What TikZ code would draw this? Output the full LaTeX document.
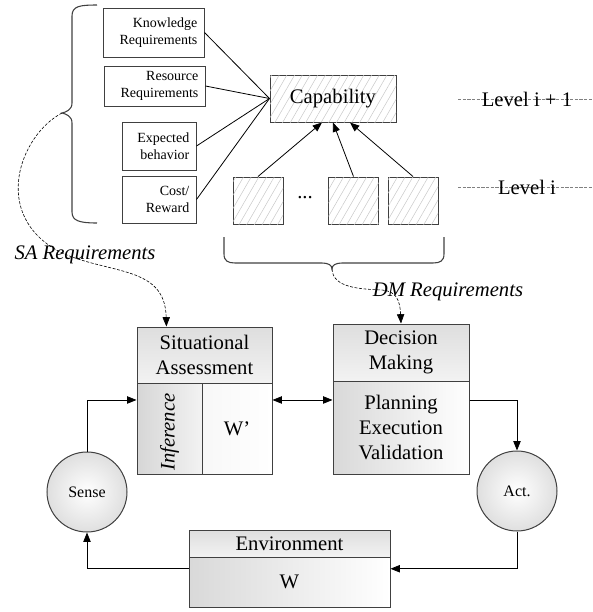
\documentclass[tikz,border=0pt]{standalone}
\usepackage{fontspec}
\setmainfont{Liberation Serif}
\usetikzlibrary{arrows.meta,patterns.meta,calc}

\definecolor{boxline}{RGB}{64,64,64}
\tikzset{every picture/.style={line width=0.6pt}}
\tikzset{
  bigtext/.style={font=\fontsize{15.5}{18.75}\selectfont},
  reqbox/.style={draw=boxline, line width=0.75pt, align=right, inner xsep=5pt, inner ysep=2pt, text width=#1, font=\fontsize{10.5}{12.75}\selectfont},
  hatchbox/.style={draw=boxline, line width=0.75pt, fill=white, postaction={pattern={Lines[angle=60,distance=5pt,line width=0.35pt]}, pattern color=gray!45}},
  headbox/.style={draw=boxline, line width=0.75pt, bigtext, align=center, inner sep=1pt, top color=gray!26, bottom color=gray!10},
  bodybox/.style={draw=boxline, line width=0.75pt, bigtext, align=center, inner sep=1pt, left color=gray!30, right color=white},
  iobox/.style={circle, draw=boxline, line width=0.75pt, minimum size=60pt, inner sep=0pt, inner color=white, outer color=gray!25, font=\fontsize{12}{14}\selectfont},
  conn/.style={-{Triangle[length=7pt,width=5.5pt]}, black},
  levelline/.style={gray, line width=0.5pt, dash pattern=on 2.5pt off 1pt},
  reqcurve/.style={-{Triangle[length=7pt,width=5.5pt]}, black, line width=0.45pt, dash pattern=on 2.2pt off 1.2pt},
  bracket/.style={boxline, line width=0.8pt}
}

\begin{document}
\begin{tikzpicture}[x=0.75pt,y=0.75pt,yscale=-1,xscale=1]
\useasboundingbox (0,0) rectangle (593,612);

% requirement boxes
\node[reqbox=65.75pt, minimum height=36.75pt] (know) at (153.5,32.5) {Knowledge\\Requirements};
\node[reqbox=65.75pt, minimum height=30pt] (res) at (154.5,86) {Resource\\Requirements};
\node[reqbox=45.5pt, minimum height=36pt] (expb) at (159,146) {Expected\\behavior};
\node[reqbox=45.5pt, minimum height=35.25pt] (cost) at (159,199.5) {Cost/\\Reward};

% capability and its level i parts
\node[hatchbox, bigtext, minimum width=94.5pt, minimum height=35.25pt] (cap) at (333,98.5) {Capability};
\node[hatchbox, minimum width=37.5pt, minimum height=35.25pt] (lv1) at (258,200.5) {};
\node[hatchbox, minimum width=37.5pt, minimum height=35.25pt] (lv2) at (353.5,200.5) {};
\node[hatchbox, minimum width=37.5pt, minimum height=35.25pt] (lv3) at (413,200.5) {};
\node[bigtext] (dots) at (305,198) {...};

\draw (know.east) -- (cap.west);
\draw (res.east) -- (cap.west);
\draw (expb.east) -- (cap.west);
\draw (cost.east) -- (cap.west);
\draw[conn] (lv1.north) -- ($(cap.south)+(-11,0)$);
\draw[conn] (lv2.north) -- ($(cap.south)+(0,0)$);
\draw[conn] (lv3.north) -- ($(cap.south)+(17,0)$);

% level labels
\coordinate (lvtopA) at (458,99);
\coordinate (lvtopB) at (592,99);
\coordinate (lvbotA) at (458,187);
\coordinate (lvbotB) at (592,187);
\draw[levelline] (lvtopA) -- (lvtopB);
\draw[levelline] (lvbotA) -- (lvbotB);
\node[bigtext] (lvtoplbl) at (527,99) {Level i + 1};
\node[bigtext] (lvbotlbl) at (527,187) {Level i};

% braces
\coordinate (sabrace) at (62,113);
\coordinate (dmbrace) at (332,269);
\draw[bracket] (97,5) .. controls (80,5) and (72,6) .. (72,16) -- (72,103) .. controls (72,110) and (66,112) .. (sabrace) .. controls (66,114) and (72,116) .. (72,123) -- (72,212) .. controls (72,221) and (80,223) .. (97,223);
\draw[bracket] (224,237) -- (224,254) .. controls (224,261) and (228,263) .. (235,263) -- (322,263) .. controls (328,263) and (332,265) .. (dmbrace) .. controls (332,265) and (336,263) .. (342,263) -- (433,263) .. controls (440,263) and (444,261) .. (444,254) -- (444,237);

% situational assessment
\node[headbox, minimum width=101.25pt, minimum height=42pt] (sahead) at (204.5,355) {Situational\\Assessment};
\node[bodybox, left color=gray!32, right color=gray!10, minimum width=48.75pt, minimum height=68.25pt] (sainf) at (169.5,428.5) {};
\node[bodybox, left color=gray!6, right color=white, minimum width=52.5pt, minimum height=68.25pt] (sawp) at (237,428.5) {W’};
\node[bigtext, rotate=90, font=\fontsize{15.5}{18.75}\selectfont\itshape] (inftxt) at (169.5,432) {Inference};

% decision making
\node[headbox, minimum width=102pt, minimum height=42.75pt] (dmhead) at (401,352.5) {Decision\\Making};
\node[bodybox, minimum width=102pt, minimum height=69.75pt] (dmbody) at (401,427.5) {Planning\\Execution\\Validation};

% environment
\node[headbox, minimum width=150.75pt, minimum height=20.25pt] (envhead) at (289.5,543.5) {Environment};
\node[bodybox, minimum width=150.75pt, minimum height=37.5pt] (envbody) at (289.5,582) {W};

% sense / act
\node[iobox] (sense) at (87,492) {Sense};
\node[iobox] (act) at (517,491) {Act.};

% requirement curves
\coordinate (sareq) at ($(sahead.north west)!0.22!(sahead.north east)$);
\draw[reqcurve] (sabrace) .. controls (20,135) and (-10,215) .. (60,252) .. controls (110,275) and (165,265) .. (sareq);
\draw[reqcurve] (dmbrace) .. controls (333,288) and (360,289) .. (382,290) .. controls (396,291) and (400,300) .. (dmhead.north);
\node[bigtext, font=\fontsize{15.5}{18.75}\selectfont\itshape] (sareqlbl) at (85,255) {SA Requirements};
\node[bigtext, font=\fontsize{15.5}{18.75}\selectfont\itshape] (dmreqlbl) at (448,292) {DM Requirements};

% loop
\coordinate (saR) at ($(sawp.north east)!0.19!(sawp.south east)$);
\draw[conn] (sense) |- ($(sainf.north west)!0.19!(sainf.south west)$);
\draw[conn, {Triangle[length=7pt,width=5.5pt]}-{Triangle[length=7pt,width=5.5pt]}] (saR) -- (saR -| dmbody.west);
\draw[conn] (dmbody.east |- saR) -| (act);
\draw[conn] (act) |- ($(envbody.north east)!0.24!(envbody.south east)$);
\draw[conn] ($(envbody.north west)!0.24!(envbody.south west)$) -| (sense);

\end{tikzpicture}
\end{document}
